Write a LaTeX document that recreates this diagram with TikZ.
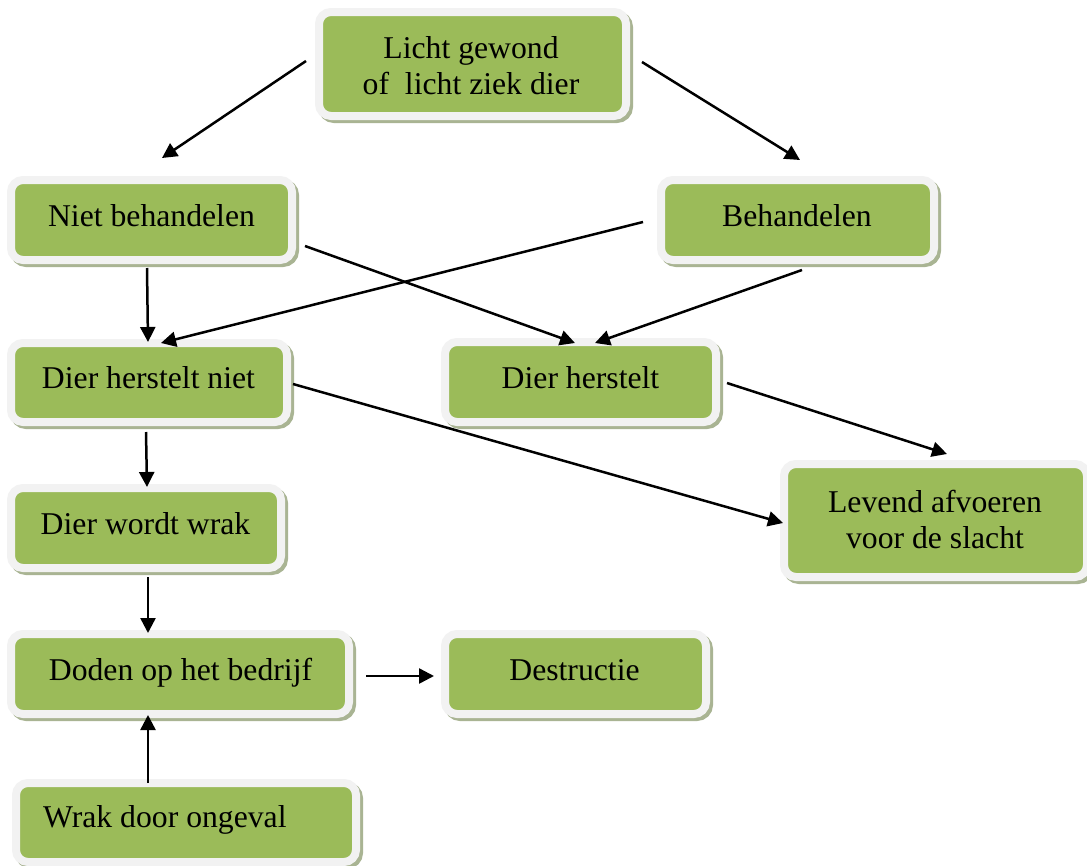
\documentclass[tikz,border=0pt]{standalone}
\usepackage{fontspec}
\setmainfont{Liberation Serif}
\usetikzlibrary{arrows.meta}
\definecolor{boxgreen}{HTML}{9BBB59}
\definecolor{boxgray}{HTML}{F2F2F2}
\definecolor{shadowc}{HTML}{A9B493}
\tikzset{
 gbox/.style={draw=boxgray, line width=8pt, fill=boxgreen, rounded corners=12pt, inner sep=0pt, outer sep=0pt},
 sbox/.style={draw=shadowc, line width=8pt, fill=shadowc, rounded corners=12pt, inner sep=0pt, outer sep=0pt},
 txt/.style={font=\fontsize{31.7}{36}\selectfont, inner sep=0pt, anchor=base},
 arr/.style={line width=2.5pt, -{Triangle[length=15pt,width=15pt]}},
}
\newcommand\gbox[5]{%
 \node[sbox, minimum width={(#4-#2+8)*1pt}, minimum height={(#5-#3+8)*1pt}] (#1s) at ({(#2+#4)/2+3},{(#3+#5)/2+3}) {};
 \node[gbox, minimum width={(#4-#2+8)*1pt}, minimum height={(#5-#3+8)*1pt}] (#1) at ({(#2+#4)/2},{(#3+#5)/2}) {};}
\begin{document}
\begin{tikzpicture}[x=1pt,y=-1pt]
\useasboundingbox (0,0) rectangle (1087,865);
\fill[white] (0,0) rectangle (1087,865);
% boxes
\gbox{top}{323}{16}{622}{112}
\gbox{nb}{15}{184}{288}{256}
\gbox{beh}{665}{184}{930}{256}
\gbox{dhn}{15}{347}{283}{418}
\gbox{dh}{449}{346}{712}{418}
\gbox{lev}{788}{468}{1083}{573}
\gbox{dww}{15}{492}{277}{564}
\gbox{dod}{15}{638}{345}{710}
\gbox{des}{449}{638}{702}{710}
\gbox{wdo}{20}{787}{352}{858}
% texts
\node[txt] (topt1) at (471,58) {Licht gewond};
\node[txt] (topt2) at (471,94) {of\ \ licht ziek dier};
\node[txt] (nbt) at (151.5,226) {Niet behandelen};
\node[txt] (beht) at (797,226) {Behandelen};
\node[txt] (dhnt) at (148.5,388) {Dier herstelt niet};
\node[txt] (dht) at (580.5,388) {Dier herstelt};
\node[txt] (levt1) at (935,512) {Levend afvoeren};
\node[txt] (levt2) at (935,548) {voor de slacht};
\node[txt] (dwwt) at (145.5,534) {Dier wordt wrak};
\node[txt] (dodt) at (180.5,680) {Doden op het bedrijf};
\node[txt] (dest) at (574.5,680) {Destructie};
\node[txt, anchor=base west] (wdot) at (43,827) {Wrak door ongeval};
% connector end points
\coordinate (a1s) at (306,61);  \coordinate (a1e) at (162,158);
\coordinate (a2s) at (642,62);  \coordinate (a2e) at (800,160);
\coordinate (a3s) at (147,268); \coordinate (a3e) at (148,342);
\coordinate (a4s) at (643,222); \coordinate (a4e) at (161,343);
\coordinate (a5s) at (305,246); \coordinate (a5e) at (575,343);
\coordinate (a6s) at (802,270); \coordinate (a6e) at (595,343);
\coordinate (a7s) at (727,383); \coordinate (a7e) at (947,454);
\coordinate (a8s) at (293,384); \coordinate (a8e) at (783,523);
\coordinate (a9s) at (146,432); \coordinate (a9e) at (147,487);
\coordinate (a10s) at (148,577); \coordinate (a10e) at (148,633);
\coordinate (a11s) at (366,676); \coordinate (a11e) at (434,676);
\coordinate (a12s) at (148,783); \coordinate (a12e) at (148,715);
\foreach \i in {1,...,12} {\draw[arr] (a\i s) -- (a\i e);}
\end{tikzpicture}
\end{document}
